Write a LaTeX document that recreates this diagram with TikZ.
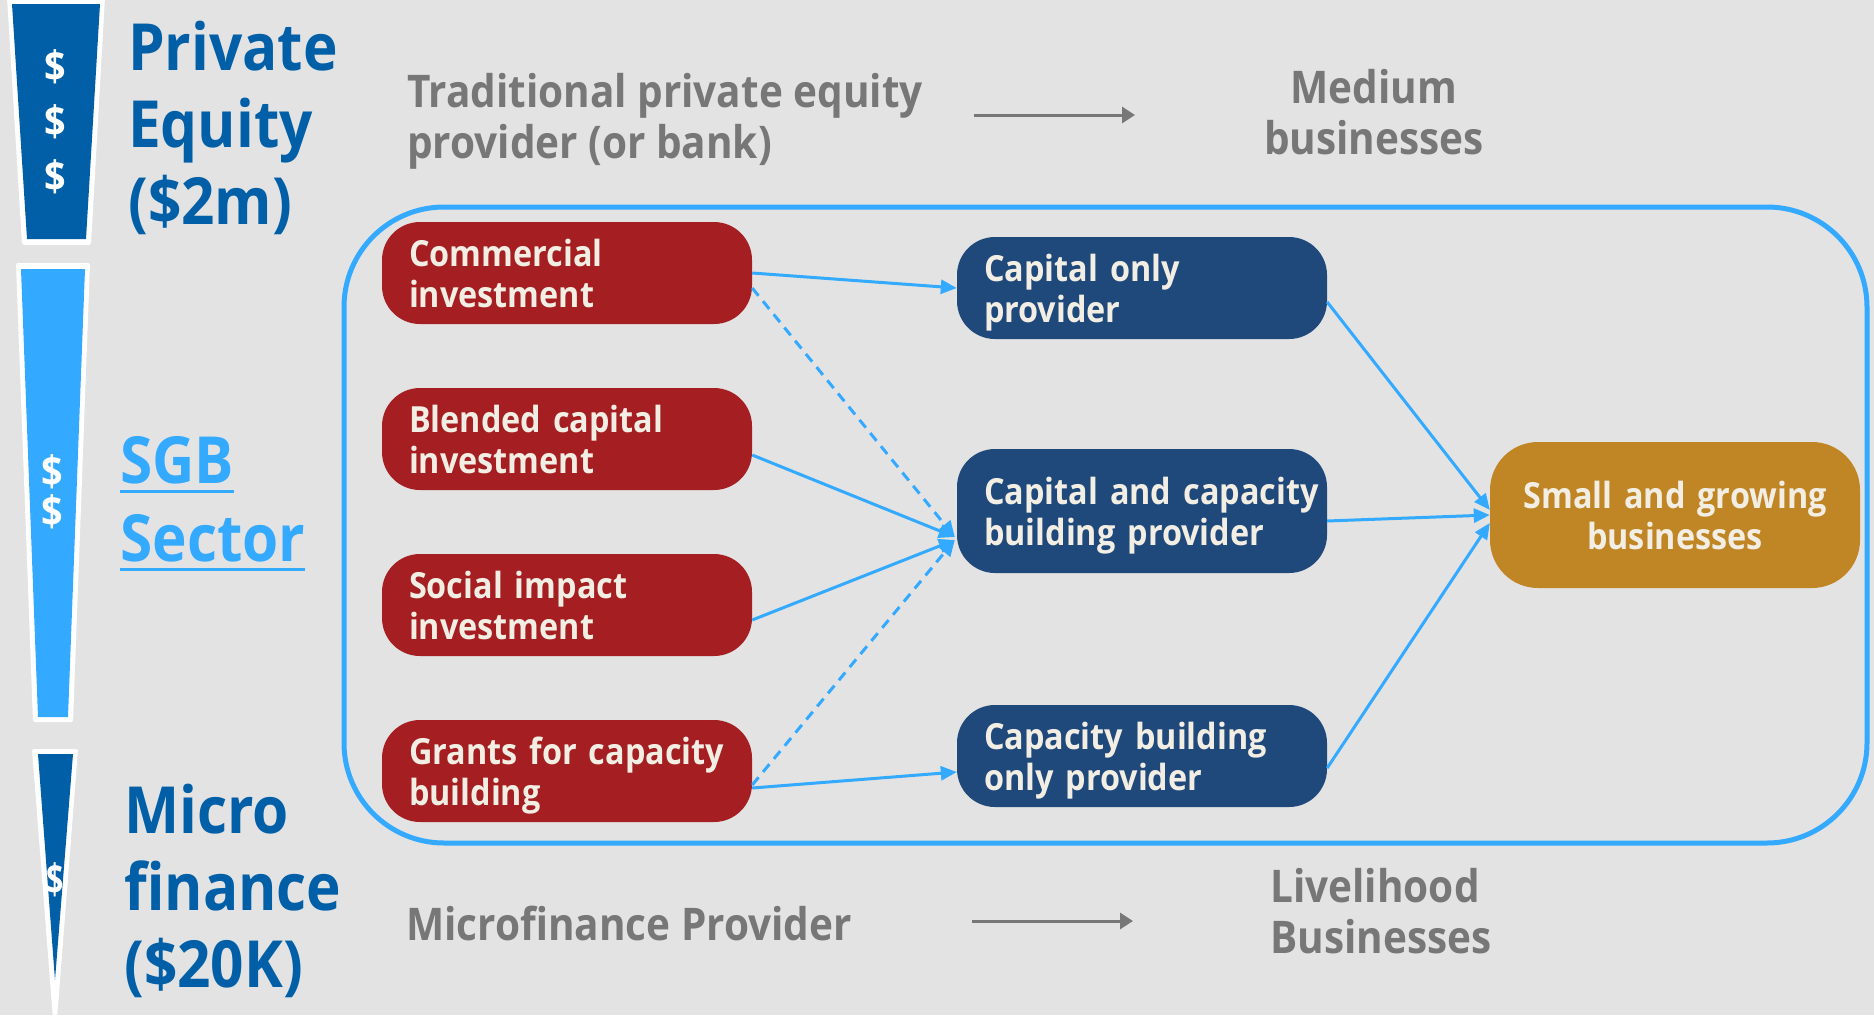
\documentclass[tikz,border=0pt]{standalone}
\usepackage{fontspec}
\setmainfont{Open Sans}[FakeStretch=0.9]
\usetikzlibrary{arrows.meta,calc}
\definecolor{bg}{HTML}{E3E3E3}
\definecolor{dblue}{HTML}{005FA7}
\definecolor{lblue}{HTML}{33AAFF}
\definecolor{cred}{HTML}{A41E22}
\definecolor{cnavy}{HTML}{1F487B}
\definecolor{cgold}{HTML}{C08626}
\definecolor{ctext}{HTML}{F3EEE4}
\definecolor{cgray}{HTML}{777777}
\newcommand\bxtop{\rule{0pt}{36pt}}
\newcommand\bxbot{\rule[-9pt]{0pt}{9pt}}
\begin{document}
\begin{tikzpicture}[x=1pt,y=-1pt,
  boxbase/.style={rounded corners=38pt, minimum width=370pt, inner ysep=0pt, text=ctext,
    font=\bfseries\fontsize{36}{41}\selectfont},
  redbox/.style={boxbase, fill=cred, minimum height=102pt, text width=316pt, inner xsep=27pt, align=left},
  navbox/.style={boxbase, fill=cnavy, text width=316pt, inner xsep=27pt, align=left},
  goldbox/.style={boxbase, fill=cgold, rounded corners=48pt, minimum height=146pt, text width=350pt, inner xsep=10pt, align=center},
  flow/.style={draw=lblue, line width=3pt, -{Triangle[length=16pt,width=14pt]}},
  dflow/.style={flow, dash pattern=on 10pt off 7pt},
  garrow/.style={draw=cgray, line width=3pt, -{Triangle[length=13pt,width=16pt]}},
  title/.style={anchor=base west, inner sep=0pt, font=\bfseries\fontsize{65}{65}\selectfont},
  gtext/.style={text=cgray, inner sep=0pt, font=\bfseries\fontsize{45}{51}\selectfont},
  dollar/.style={text=white, inner sep=0pt, font=\bfseries\fontsize{42}{42}\selectfont}]
\fill[bg] (0,0) rectangle (1874,1015);
\useasboundingbox (0,0) rectangle (1874,1015);

% funnels
\fill[white, rounded corners=2pt] (7,-3) -- (105,-3) -- (91,245) -- (22,245) -- cycle;
\fill[dblue] (12,4) -- (100,4) -- (86,239) -- (27,239) -- cycle;
\fill[white, rounded corners=2pt] (16,263) -- (90,263) -- (73,722) -- (33,722) -- cycle;
\fill[lblue] (21,269) -- (85,269) -- (68,717) -- (38,717) -- cycle;
\fill[white, rounded corners=2pt] (32,749) -- (78,749) -- (55,1045) -- cycle;
\fill[dblue] (38,754) -- (73,754) -- (55,980) -- cycle;

\node[dollar] (d1) at (55,67) {\$};
\node[dollar] (d2) at (55,122) {\$};
\node[dollar] (d3) at (55,177) {\$};
\node[dollar] (d4) at (52,472) {\$};
\node[dollar] (d5) at (52,512) {\$};
\node[dollar, xscale=0.8] (d6) at (55,880) {\$};

% titles
\node[title, text=dblue] (pe1) at (128,70) {Private};
\node[title, text=dblue] (pe2) at (128,147) {Equity};
\node[title, text=dblue] (pe3) at (128,224) {(\$2m)};
\node[title, text=lblue] (sgb) at (120,483) {SGB};
\node[title, text=lblue] (sec) at (120,561) {Sector};
\draw[lblue, line width=3pt] ($(sgb.base west)+(0,8)$) -- ($(sgb.base east)+(0,8)$);
\draw[lblue, line width=3pt] ($(sec.base west)+(0,8)$) -- ($(sec.base east)+(0,8)$);
\node[title, text=dblue] (mf1) at (124,833) {Micro};
\node[title, text=dblue] (mf2) at (124,910) {finance};
\node[title, text=dblue] (mf3) at (124,987) {(\$20K)};

% gray texts
\node[gtext, anchor=base west] (tp1) at (407,107) {Traditional private equity};
\node[gtext, anchor=base west] (tp2) at (407,158) {provider (or bank)};
\node[gtext, anchor=base] (md1) at (1374,103) {Medium};
\node[gtext, anchor=base] (md2) at (1374,154) {businesses};
\node[gtext, anchor=base west] (mp) at (406,940) {Microfinance Provider};
\node[gtext, anchor=base] (lv1) at (1375,902) {Livelihood};
\node[gtext, anchor=base] (lv2) at (1381,953) {Businesses};
\coordinate (ga1s) at (974,115);
\coordinate (ga1e) at (1135,115);
\coordinate (ga2s) at (972,921);
\coordinate (ga2e) at (1133,921);
\draw[garrow] (ga1s) -- (ga1e);
\draw[garrow] (ga2s) -- (ga2e);

% frame
\draw[lblue, line width=5pt, rounded corners=100pt] (344,207) rectangle (1867,843);

% boxes
\node[redbox] (r1) at (567,273) {\mbox{\bxtop Commercial}\\\mbox{investment\bxbot}};
\node[redbox] (r2) at (567,439) {\mbox{\bxtop Blended capital}\\\mbox{investment\bxbot}};
\node[redbox] (r3) at (567,605) {\mbox{\bxtop Social impact}\\\mbox{investment\bxbot}};
\node[redbox] (r4) at (567,771) {\mbox{\bxtop Grants for capacity}\\\mbox{building\bxbot}};
\node[navbox, minimum height=102pt] (b1) at (1142,288) {\mbox{\bxtop Capital only}\\\mbox{provider\bxbot}};
\node[navbox, minimum height=124pt] (b2) at (1142,511) {\mbox{\bxtop Capital and capacity}\\\mbox{building provider\bxbot}};
\node[navbox, minimum height=102pt] (b3) at (1142,756) {\mbox{\bxtop Capacity building}\\\mbox{only provider\bxbot}};
\node[goldbox] (g) at (1675,515) {\mbox{\bxtop Small and growing}\\\mbox{businesses\bxbot}};

% connectors
\coordinate (b2in) at ($(b2.west)+(-2,26)$);
\coordinate (b2in2) at ($(b2.west)+(-2,29)$);
\draw[flow] (r1.east) -- (b1.west);
\draw[dflow] ($(r1.east)+(0,15)$) -- (b2in);
\draw[flow] ($(r2.east)+(0,16)$) -- (b2in);
\draw[flow] ($(r3.east)+(0,15)$) -- (b2in2);
\draw[dflow] ($(r4.east)+(0,14)$) -- (b2in2);
\draw[flow] ($(r4.east)+(0,17)$) -- ($(b3.west)+(0,16)$);
\draw[flow] ($(b1.east)+(0,14)$) -- ($(g.west)+(0,-5)$);
\draw[flow] ($(b2.east)+(0,10)$) -- (g.west);
\draw[flow] ($(b3.east)+(0,12)$) -- ($(g.west)+(0,8)$);
\end{tikzpicture}
\end{document}
